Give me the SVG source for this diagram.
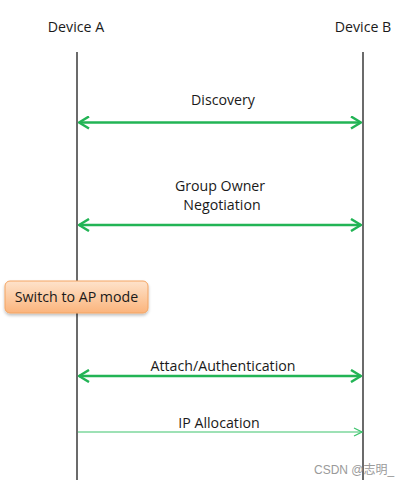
<svg xmlns="http://www.w3.org/2000/svg" width="410" height="485" viewBox="0 0 410 485">
<style>
.t{font-family:"Open Sans","Liberation Sans",sans-serif;font-size:14.2px;fill:#1a1a1a;text-anchor:middle}
.life{stroke:#6b6b6b;stroke-width:2;fill:none}
.msg{stroke:#22b455;stroke-width:2.5;fill:none}
.thin{stroke:#3cc46c;stroke-width:1.2;fill:none}
.wm{font-family:"Liberation Sans","Noto Sans CJK SC",sans-serif;font-size:12px;fill:#9a9a9a}
</style>
<defs>
<marker id="ah" viewBox="0 0 12 14" refX="11" refY="7" markerWidth="12" markerHeight="14" markerUnits="userSpaceOnUse" orient="auto-start-reverse">
<path d="M1,1 L11,7 L1,13" fill="none" stroke="#22b455" stroke-width="2.5" stroke-linejoin="miter"/>
</marker>
<marker id="ahThin" viewBox="0 0 10 10" refX="9" refY="5" markerWidth="10" markerHeight="10" markerUnits="userSpaceOnUse" orient="auto">
<path d="M1,1 L9,5 L1,9" fill="none" stroke="#3cc46c" stroke-width="1.2"/>
</marker>
<linearGradient id="og" x1="0" y1="0" x2="0" y2="1">
<stop offset="0" stop-color="#fee3cb"/>
<stop offset="1" stop-color="#fbb47c"/>
</linearGradient>
<filter id="sh" x="-10%" y="-20%" width="120%" height="160%">
<feDropShadow dx="0" dy="2" stdDeviation="1.5" flood-color="#000" flood-opacity="0.25"/>
</filter>
</defs>
<rect width="410" height="485" fill="#fff"/>
<g id="deviceA">
<text class="t" x="76" y="32">Device A</text>
<line class="life" x1="77" y1="52" x2="77" y2="480"/>
</g>
<g id="deviceB">
<text class="t" x="363" y="32">Device B</text>
<line class="life" x1="363" y1="52" x2="363" y2="480"/>
</g>
<g id="switchAP">
<rect x="5" y="281" width="143" height="32" rx="5" fill="url(#og)" stroke="#f3a462" stroke-width="1" filter="url(#sh)"/>
<text class="t" x="76.5" y="301.5">Switch to AP mode</text>
</g>
<g id="connectors">
<line class="msg" x1="79" y1="122.5" x2="361" y2="122.5" marker-start="url(#ah)" marker-end="url(#ah)"/>
<line class="msg" x1="79" y1="225" x2="361" y2="225" marker-start="url(#ah)" marker-end="url(#ah)"/>
<line class="msg" x1="79" y1="376" x2="361" y2="376" marker-start="url(#ah)" marker-end="url(#ah)"/>
<line class="thin" x1="78" y1="432" x2="362" y2="432" marker-end="url(#ahThin)"/>
</g>
<g id="labels">
<text class="t" x="223" y="104.5">Discovery</text>
<text class="t" x="220" y="190.5">Group Owner</text>
<text class="t" x="222" y="210">Negotiation</text>
<text class="t" x="223" y="370.5">Attach/Authentication</text>
<text class="t" x="219" y="427.5">IP Allocation</text>
</g>
<text class="wm" x="314" y="474">CSDN @志明_</text>
</svg>
